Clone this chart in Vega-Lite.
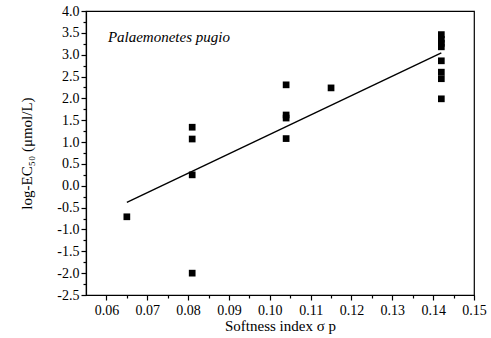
{
  "$schema": "https://vega.github.io/schema/vega-lite/v6.json",
  "autosize": "none",
  "width": 388,
  "height": 284,
  "padding": {"left": 86, "top": 11, "right": 17, "bottom": 43},
  "background": "white",
  "config": {
    "view": {"stroke": "black", "strokeWidth": 1.2},
    "font": "Liberation Serif",
    "axis": {"labelOverlap": false, "labelFont": "Liberation Serif", "titleFont": "Liberation Serif"},
    "text": {"font": "Liberation Serif"}
  },
  "datasets": {
    "obs": [
      {"sp": 0.065, "logEC50": -0.71},
      {"sp": 0.081, "logEC50": 1.34},
      {"sp": 0.081, "logEC50": 1.07},
      {"sp": 0.081, "logEC50": 0.25},
      {"sp": 0.081, "logEC50": -2.0},
      {"sp": 0.104, "logEC50": 2.31},
      {"sp": 0.104, "logEC50": 1.62},
      {"sp": 0.104, "logEC50": 1.55},
      {"sp": 0.104, "logEC50": 1.08},
      {"sp": 0.115, "logEC50": 2.24},
      {"sp": 0.142, "logEC50": 3.46},
      {"sp": 0.142, "logEC50": 3.35},
      {"sp": 0.142, "logEC50": 3.26},
      {"sp": 0.142, "logEC50": 3.18},
      {"sp": 0.142, "logEC50": 2.86},
      {"sp": 0.142, "logEC50": 2.6},
      {"sp": 0.142, "logEC50": 2.45},
      {"sp": 0.142, "logEC50": 1.99}
    ],
    "fit": [
      {"sp": 0.065, "logEC50": -0.38},
      {"sp": 0.142, "logEC50": 3.04}
    ],
    "label": [
      {"sp": 0.0753, "logEC50": 3.41, "name": "Palaemonetes pugio"}
    ]
  },
  "layer": [
    {
      "data": {"name": "fit"},
      "mark": {"type": "line", "color": "black", "strokeWidth": 1.4},
      "encoding": {
        "x": {
          "field": "sp", "type": "quantitative",
          "scale": {"domain": [0.055, 0.15], "nice": false, "zero": false},
          "axis": {
            "title": "Softness index σ p",
            "titleFont": "Liberation Serif",
            "titleFontSize": 15,
            "titleFontWeight": "normal",
            "titleColor": "black",
            "titlePadding": 1,
            "tickCount": 50,
            "values": [0.06, 0.065, 0.07, 0.075, 0.08, 0.085, 0.09, 0.095, 0.1, 0.105, 0.11, 0.115, 0.12, 0.125, 0.13, 0.135, 0.14, 0.145, 0.15],
            "labelExpr": "round(datum.value*1000) % 10 == 0 ? format(datum.value, '.2f') : ''",
            "labelFont": "Liberation Serif",
            "labelFontSize": 14,
            "labelColor": "black",
            "labelPadding": 3,
            "labelFlush": false,
            "labelOverlap": false,
            "grid": false,
            "domainColor": "black",
            "domainWidth": 1.2,
            "tickColor": "black",
            "tickWidth": 1.2,
            "tickSize": {"condition": {"test": "round(datum.value*1000) % 10 == 0", "value": 5}, "value": 3}
          }
        },
        "y": {
          "field": "logEC50", "type": "quantitative",
          "scale": {"domain": [-2.5, 4.0], "nice": false, "zero": false},
          "axis": {
            "title": "log-EC₅₀ (μmol/L)",
            "titleFont": "Liberation Serif",
            "titleFontSize": 15,
            "titleFontWeight": "normal",
            "titleColor": "black",
            "titlePadding": 22,
            "tickCount": 50,
            "values": [-2.5, -2.25, -2.0, -1.75, -1.5, -1.25, -1.0, -0.75, -0.5, -0.25, 0.0, 0.25, 0.5, 0.75, 1.0, 1.25, 1.5, 1.75, 2.0, 2.25, 2.5, 2.75, 3.0, 3.25, 3.5, 3.75, 4.0],
            "labelExpr": "round(datum.value*100) % 50 == 0 ? replace(format(datum.value, '.1f'), '−', '-') : ''",
            "labelFont": "Liberation Serif",
            "labelFontSize": 14,
            "labelColor": "black",
            "labelPadding": 2,
            "labelFlush": false,
            "labelOverlap": false,
            "grid": false,
            "domainColor": "black",
            "domainWidth": 1.2,
            "tickColor": "black",
            "tickWidth": 1.2,
            "tickSize": {"condition": {"test": "round(datum.value*100) % 50 == 0", "value": 5}, "value": 3}
          }
        }
      }
    },
    {
      "data": {"name": "obs"},
      "mark": {"type": "point", "shape": "square", "filled": true, "color": "black", "opacity": 1, "size": 45},
      "encoding": {
        "x": {"field": "sp", "type": "quantitative"},
        "y": {"field": "logEC50", "type": "quantitative"}
      }
    },
    {
      "data": {"name": "label"},
      "mark": {"type": "text", "font": "Liberation Serif", "fontSize": 15, "fontStyle": "italic", "color": "black", "align": "center", "baseline": "middle"},
      "encoding": {
        "x": {"field": "sp", "type": "quantitative"},
        "y": {"field": "logEC50", "type": "quantitative"},
        "text": {"field": "name"}
      }
    }
  ]
}
